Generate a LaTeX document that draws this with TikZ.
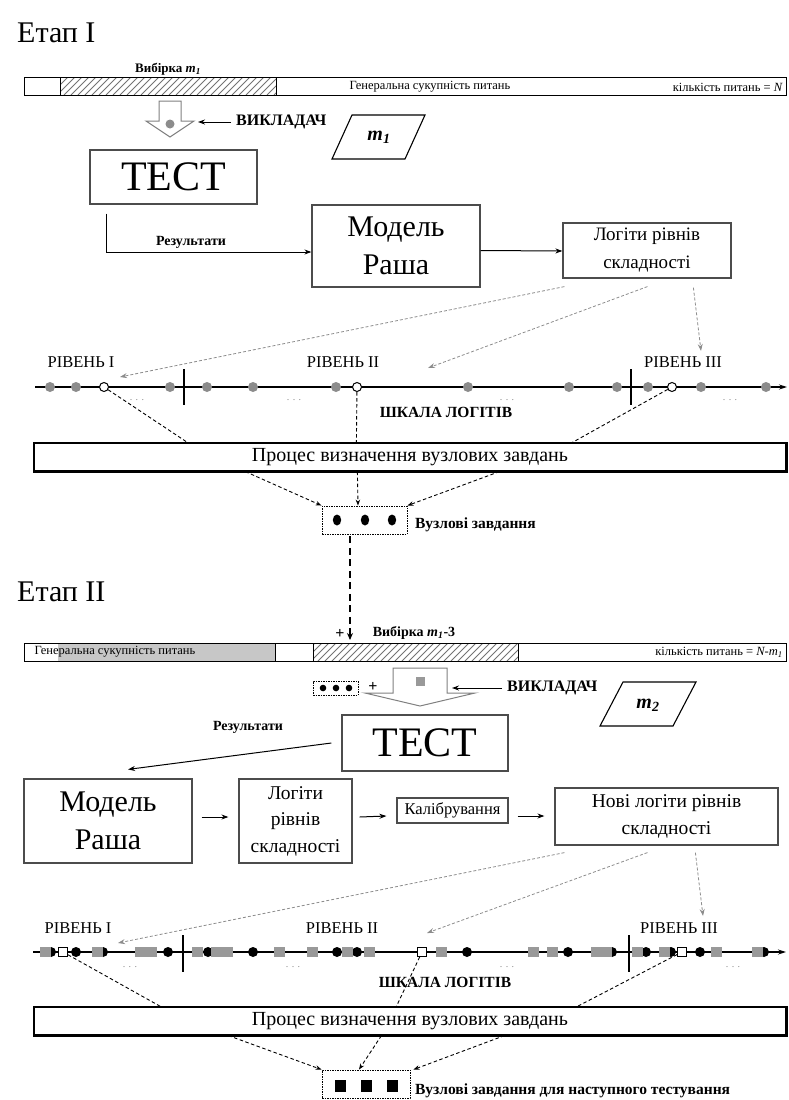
\documentclass[tikz,border=0pt]{standalone}
\usepackage{fontspec}
\setmainfont{Liberation Serif}
\usetikzlibrary{calc,arrows.meta}
\newcommand\fsz[2]{\fontsize{#1}{#2}\selectfont}
\definecolor{dotgray}{gray}{0.55}
\definecolor{sqgray}{gray}{0.6}
\definecolor{hatchgray}{gray}{0.45}
\tikzset{
  box/.style={draw=black!70, line width=1.2pt, fill=white, inner sep=0pt, align=center},
  arr/.style={line width=1pt, -{Stealth[length=7pt,width=5pt]}},
  garr/.style={draw=black!45, line width=0.8pt, dash pattern=on 3pt off 2pt, -{Stealth[length=7pt,width=5pt]}},
  kdash/.style={line width=0.9pt, dash pattern=on 3.5pt off 2.5pt},
  karr/.style={kdash, -{Stealth[length=6pt,width=4.5pt]}},
  lab/.style={font=\bfseries\fsz{15.5}{17}, inner sep=0pt},
  lvl/.style={font=\fsz{16.5}{18}, inner sep=0pt},
  small/.style={font=\fsz{12.5}{14}, inner sep=0pt},
  ellip/.style={font=\fsz{10}{12}, text=black!45, inner sep=0pt},
  hdot/.style={circle, draw=black, fill=white, line width=1pt, minimum size=9pt, inner sep=0pt},
  hsq/.style={rectangle, draw=black, fill=white, line width=1pt, minimum size=9pt, inner sep=0pt},
  nodebox/.style={draw=black, line width=0.9pt, dash pattern=on 1.5pt off 1pt, fill=white, inner sep=0pt},
  hatch/.style={draw=hatchgray, line width=0.8pt},
  hollow/.style={draw=black!50, fill=white, line width=1pt},
}
\begin{document}
\begin{tikzpicture}[x=1pt,y=-1pt]
\useasboundingbox (0,0) rectangle (788,1100);

% ================= Stage I =================
\node[anchor=base west, font=\fsz{30}{36}, inner sep=0pt] (title1) at (17,42) {Етап I};

% pool of questions with the sample m1
\fill[white] (24,77) rectangle (786,95);
\begin{scope}
  \clip (60,77) rectangle (276,95);
  \foreach \i in {36,43,...,290} \draw[hatch] (\i,95) -- (\i+18,77);
\end{scope}
\draw[line width=1pt] (24,77) rectangle (786,95);
\draw[line width=1pt] (60,77) -- (60,95) (276,77) -- (276,95);
\draw[line width=1.8pt] (24,95.5) -- (786.5,95.5) -- (786.5,77);
\node[font=\bfseries\fsz{13}{14}, inner sep=0pt] (samp1) at (168,69) {Вибірка \textit{m}\textsubscript{\textit{1}}};
\node[small] (gen1) at (430,87) {Генеральна сукупність питань};
\node[small, anchor=east] (cnt1) at (783,87) {кількість питань = \textit{N}};

% hollow arrow with the drawn item
\draw[hollow] (159,101) -- (181,101) -- (181,121) -- (194,121) -- (170,137) -- (146,121) -- (159,121) -- cycle;
\fill[dotgray] (170,124) circle (4.5pt);

\node[font=\bfseries\fsz{16}{18}, anchor=west, inner sep=0pt] (teach1) at (236,122) {ВИКЛАДАЧ};
\coordinate (in1) at (198,122);
\draw[arr] ($(teach1.west)+(-5,0)$) -- (in1);

\draw[line width=1.1pt] (332,159) -- (352,115) -- (425,115) -- (405,159) -- cycle;
\node[font=\bfseries\itshape\fsz{20}{22}, inner sep=0pt] (m1) at (379,137) {m\textsubscript{1}};

\node[box, minimum width=167pt, minimum height=54pt, font=\fsz{42}{44}] (test1) at (173.5,177) {ТЕСТ};
\node[box, minimum width=168pt, minimum height=82pt, font=\fsz{30}{38}] (model1) at (396,246) {Модель\\Раша};
\node[box, minimum width=168pt, minimum height=55pt, font=\fsz{19}{28}] (logit1) at (647,250.5) {Логіти рівнів\\складності};

\draw[arr] ($(test1.south west)+(17,9)$) |- ($(model1.west)+(0,6)$);
\node[font=\bfseries\fsz{14}{16}, inner sep=0pt] (res1) at (191,242) {Результати};
\draw[arr] ($(model1.east)+(0,4.5)$) -- ($(logit1.west)+(0,0.5)$);

% logit scale I
\coordinate (s1a) at (35,387);
\coordinate (s1b) at (787,387);
\draw[line width=1.1pt, -{Stealth[length=8pt,width=5pt]}] (s1a) -- (s1b);
\draw[line width=1.1pt] (184,369) -- (184,405) (631,369) -- (631,405);
\foreach \x in {50,76,170,207,253,336,468,569,617,648,701,766}
  \fill[dotgray] (\x,387) circle (5pt);
\node[hdot] (h1a) at (104,387) {};
\node[hdot] (h1b) at (357,387) {};
\node[hdot] (h1c) at (672,387) {};

\node[lvl] (lv1a) at (81,362) {РІВЕНЬ I};
\node[lvl] (lv1b) at (343,362) {РІВЕНЬ II};
\node[lvl] (lv1c) at (683,362) {РІВЕНЬ III};
\node[ellip] (e1a) at (137,400) {. . .};
\node[ellip] (e1b) at (294,400) {. . .};
\node[ellip] (e1c) at (507,400) {. . .};
\node[ellip] (e1d) at (730,400) {. . .};
\node[lab] (sc1) at (446,412) {ШКАЛА ЛОГІТІВ};

\coordinate (t1a) at (120,377);
\coordinate (t1b) at (428,368);
\coordinate (t1c) at (701,351);
\draw[garr] ($(logit1.south west)+(2,8)$) -- (t1a);
\draw[garr] ($(logit1.south west)+(85,8)$) -- (t1b);
\draw[garr] ($(logit1.south west)+(131,9)$) -- (t1c);

\node[box, draw=black, minimum width=752pt, minimum height=28pt, font=\fsz{20}{22}] (proc1) at (410,457) {Процес визначення вузлових завдань};
\draw[line width=1.8pt] (proc1.south west) -- (proc1.south east) -- (proc1.north east);

\draw[kdash] (h1a) -- ($(proc1.north west)+(154,0)$);
\draw[kdash] (h1b) -- ($(proc1.north west)+(323,0)$);
\draw[kdash] (h1c) -- ($(proc1.north west)+(539,0)$);

\node[nodebox, minimum width=85pt, minimum height=28pt] (node1) at (364.5,520) {};
\foreach \x in {337,365,392} \fill (\x,520) ellipse (4.2pt and 5.5pt);
\node[lab, anchor=west] (nl1) at (415,525) {Вузлові завдання};

\draw[karr] ($(proc1.south west)+(212,0)$) -- (node1.north west);
\draw[karr] ($(proc1.south west)+(324,0)$) -- ($(node1.north)+(-6.5,0)$);
\draw[karr] ($(proc1.south west)+(466,0)$) -- (node1.north east);

% link to stage II
\coordinate (inB) at (350,640);
\draw[line width=2.2pt, dash pattern=on 7pt off 4.5pt, -{Stealth[length=7pt,width=6pt]}] ($(node1.south)+(-14.5,2)$) -- (inB);

% ================= Stage II =================
\node[anchor=base west, font=\fsz{30}{36}, inner sep=0pt] (title2) at (17,601) {Етап II};

\fill[white] (24,643) rectangle (786,661);
\fill[black!22] (58,643) rectangle (275,661);
\begin{scope}
  \clip (313,643) rectangle (518,661);
  \foreach \i in {290,297,...,530} \draw[hatch] (\i,661) -- (\i+18,643);
\end{scope}
\draw[line width=1pt] (24,643) rectangle (786,661);
\draw[line width=1pt] (275,643) -- (275,661) (313,643) -- (313,661) (518,643) -- (518,661);
\draw[line width=1.8pt] (24,661.5) -- (786.5,661.5) -- (786.5,643);
\node[small] (gen2) at (115,652) {Генеральна сукупність питань};
\node[font=\bfseries\fsz{14}{16}, inner sep=0pt] (samp2) at (414,633) {Вибірка \textit{m}\textsubscript{\textit{1}}-3};
\node[small, anchor=east] (cnt2) at (783,652) {кількість питань = \textit{N-m}\textsubscript{\textit{1}}};
\node[font=\bfseries\fsz{16}{16}, inner sep=0pt] (plus1) at (340,634) {+};

% hollow arrow II with the drawn item and the key tasks
\draw[hollow] (393,668) -- (447,668) -- (447,693) -- (475,693) -- (420,706) -- (365,693) -- (393,693) -- cycle;
\fill[sqgray] (415.5,677) rectangle (424.5,686);
\node[nodebox, minimum width=45pt, minimum height=14pt] (keys2) at (335.5,688) {};
\foreach \x in {323,336,349} \fill (\x,688) circle (3.3pt);
\node[font=\bfseries\fsz{16}{16}, inner sep=0pt] (plus2) at (373,687) {+};

\node[font=\bfseries\fsz{16}{18}, anchor=west, inner sep=0pt] (teach2) at (507,688) {ВИКЛАДАЧ};
\coordinate (in2) at (452,688);
\draw[arr] ($(teach2.west)+(-5,0)$) -- (in2);
\draw[line width=1.1pt] (600,726) -- (623,682) -- (696,682) -- (673,726) -- cycle;
\node[font=\bfseries\itshape\fsz{20}{22}, inner sep=0pt] (m2) at (648,705) {m\textsubscript{2}};

\node[box, minimum width=166pt, minimum height=56pt, font=\fsz{42}{44}] (test2) at (425,743) {ТЕСТ};
\node[font=\bfseries\fsz{14}{16}, inner sep=0pt] (res2) at (248,727) {Результати};

\node[box, minimum width=168pt, minimum height=84pt, font=\fsz{30}{38}] (model2) at (108,821) {Модель\\Раша};
\node[box, minimum width=113pt, minimum height=84pt, font=\fsz{19.5}{26.5}] (logit2) at (295.5,821) {Логіти\\рівнів\\складності};
\node[box, minimum width=111pt, minimum height=25pt, font=\fsz{16.5}{18}] (calib2) at (452.5,810.5) {Калібрування};
\node[box, minimum width=223pt, minimum height=57pt, font=\fsz{19.5}{27}] (new2) at (666.5,816.5) {Нові логіти рівнів\\складності};

\draw[arr] ($(test2.west)+(-10,0)$) -- ($(model2.north)+(20,-9)$);
\draw[arr] ($(model2.east)+(9,-4)$) -- ($(logit2.west)+(-10,-4)$);
\draw[arr] ($(logit2.east)+(7,-4)$) -- ($(calib2.west)+(-10,5.5)$);
\draw[arr] ($(calib2.east)+(9,5.5)$) -- ($(new2.west)+(-10,-0.5)$);

% logit scale II
\coordinate (s2a) at (33,952);
\coordinate (s2b) at (786,952);
\draw[line width=1.1pt, -{Stealth[length=8pt,width=5pt]}] (s2a) -- (s2b);
\draw[line width=1.1pt] (183,935) -- (183,972) (629,935) -- (629,972);
\foreach \x in {51,76,103,168,208,253,337,357,467,568,612,646,671,700,764}
  \fill (\x,952) circle (5pt);
\foreach \x in {45,97,140,151,197,216,227,279,312,347,369,441,533,552,596,606,637,664,716,757}
  \fill[sqgray] (\x-5.5,947) rectangle (\x+5.5,957);
\node[hsq] (hs2a) at (63,952) {};
\node[hsq] (hs2b) at (422,952) {};
\node[hsq] (hs2c) at (682,952) {};

\node[lvl] (lv2a) at (78,928) {РІВЕНЬ I};
\node[lvl] (lv2b) at (342,928) {РІВЕНЬ II};
\node[lvl] (lv2c) at (679,928) {РІВЕНЬ III};
\node[ellip] (e2a) at (130,967) {. . .};
\node[ellip] (e2b) at (293,967) {. . .};
\node[ellip] (e2c) at (507,967) {. . .};
\node[ellip] (e2d) at (733,967) {. . .};
\node[lab] (sc2) at (445,982) {ШКАЛА ЛОГІТІВ};

\coordinate (t2a) at (118,943);
\coordinate (t2b) at (427,933);
\coordinate (t2c) at (703,916);
\draw[garr] ($(new2.south west)+(10,7)$) -- (t2a);
\draw[garr] ($(new2.south west)+(93,7)$) -- (t2b);
\draw[garr] ($(new2.south west)+(141,7)$) -- (t2c);

\node[box, draw=black, minimum width=752pt, minimum height=28pt, font=\fsz{20}{22}] (proc2) at (410,1021) {Процес визначення вузлових завдань};
\draw[line width=1.8pt] (proc2.south west) -- (proc2.south east) -- (proc2.north east);

\draw[kdash] (hs2a) -- ($(proc2.north west)+(127,0)$);
\draw[kdash] (hs2b) -- ($(proc2.north west)+(363,0)$);
\draw[kdash] (hs2c) -- ($(proc2.north west)+(544,0)$);

\node[nodebox, minimum width=88pt, minimum height=28pt] (node2) at (366,1084) {};
\foreach \x in {340,366,392} \fill (\x-5.5,1080) rectangle (\x+5.5,1092);
\node[lab, anchor=west] (nl2) at (415,1091) {Вузлові завдання для наступного тестування};

\draw[karr] ($(proc2.south west)+(195,0)$) -- (node2.north west);
\draw[karr] ($(proc2.south west)+(348,0)$) -- ($(node2.north)+(-7,0)$);
\draw[karr] ($(proc2.south west)+(471,0)$) -- ($(node2.north east)+(3,0)$);
\end{tikzpicture}
\end{document}
